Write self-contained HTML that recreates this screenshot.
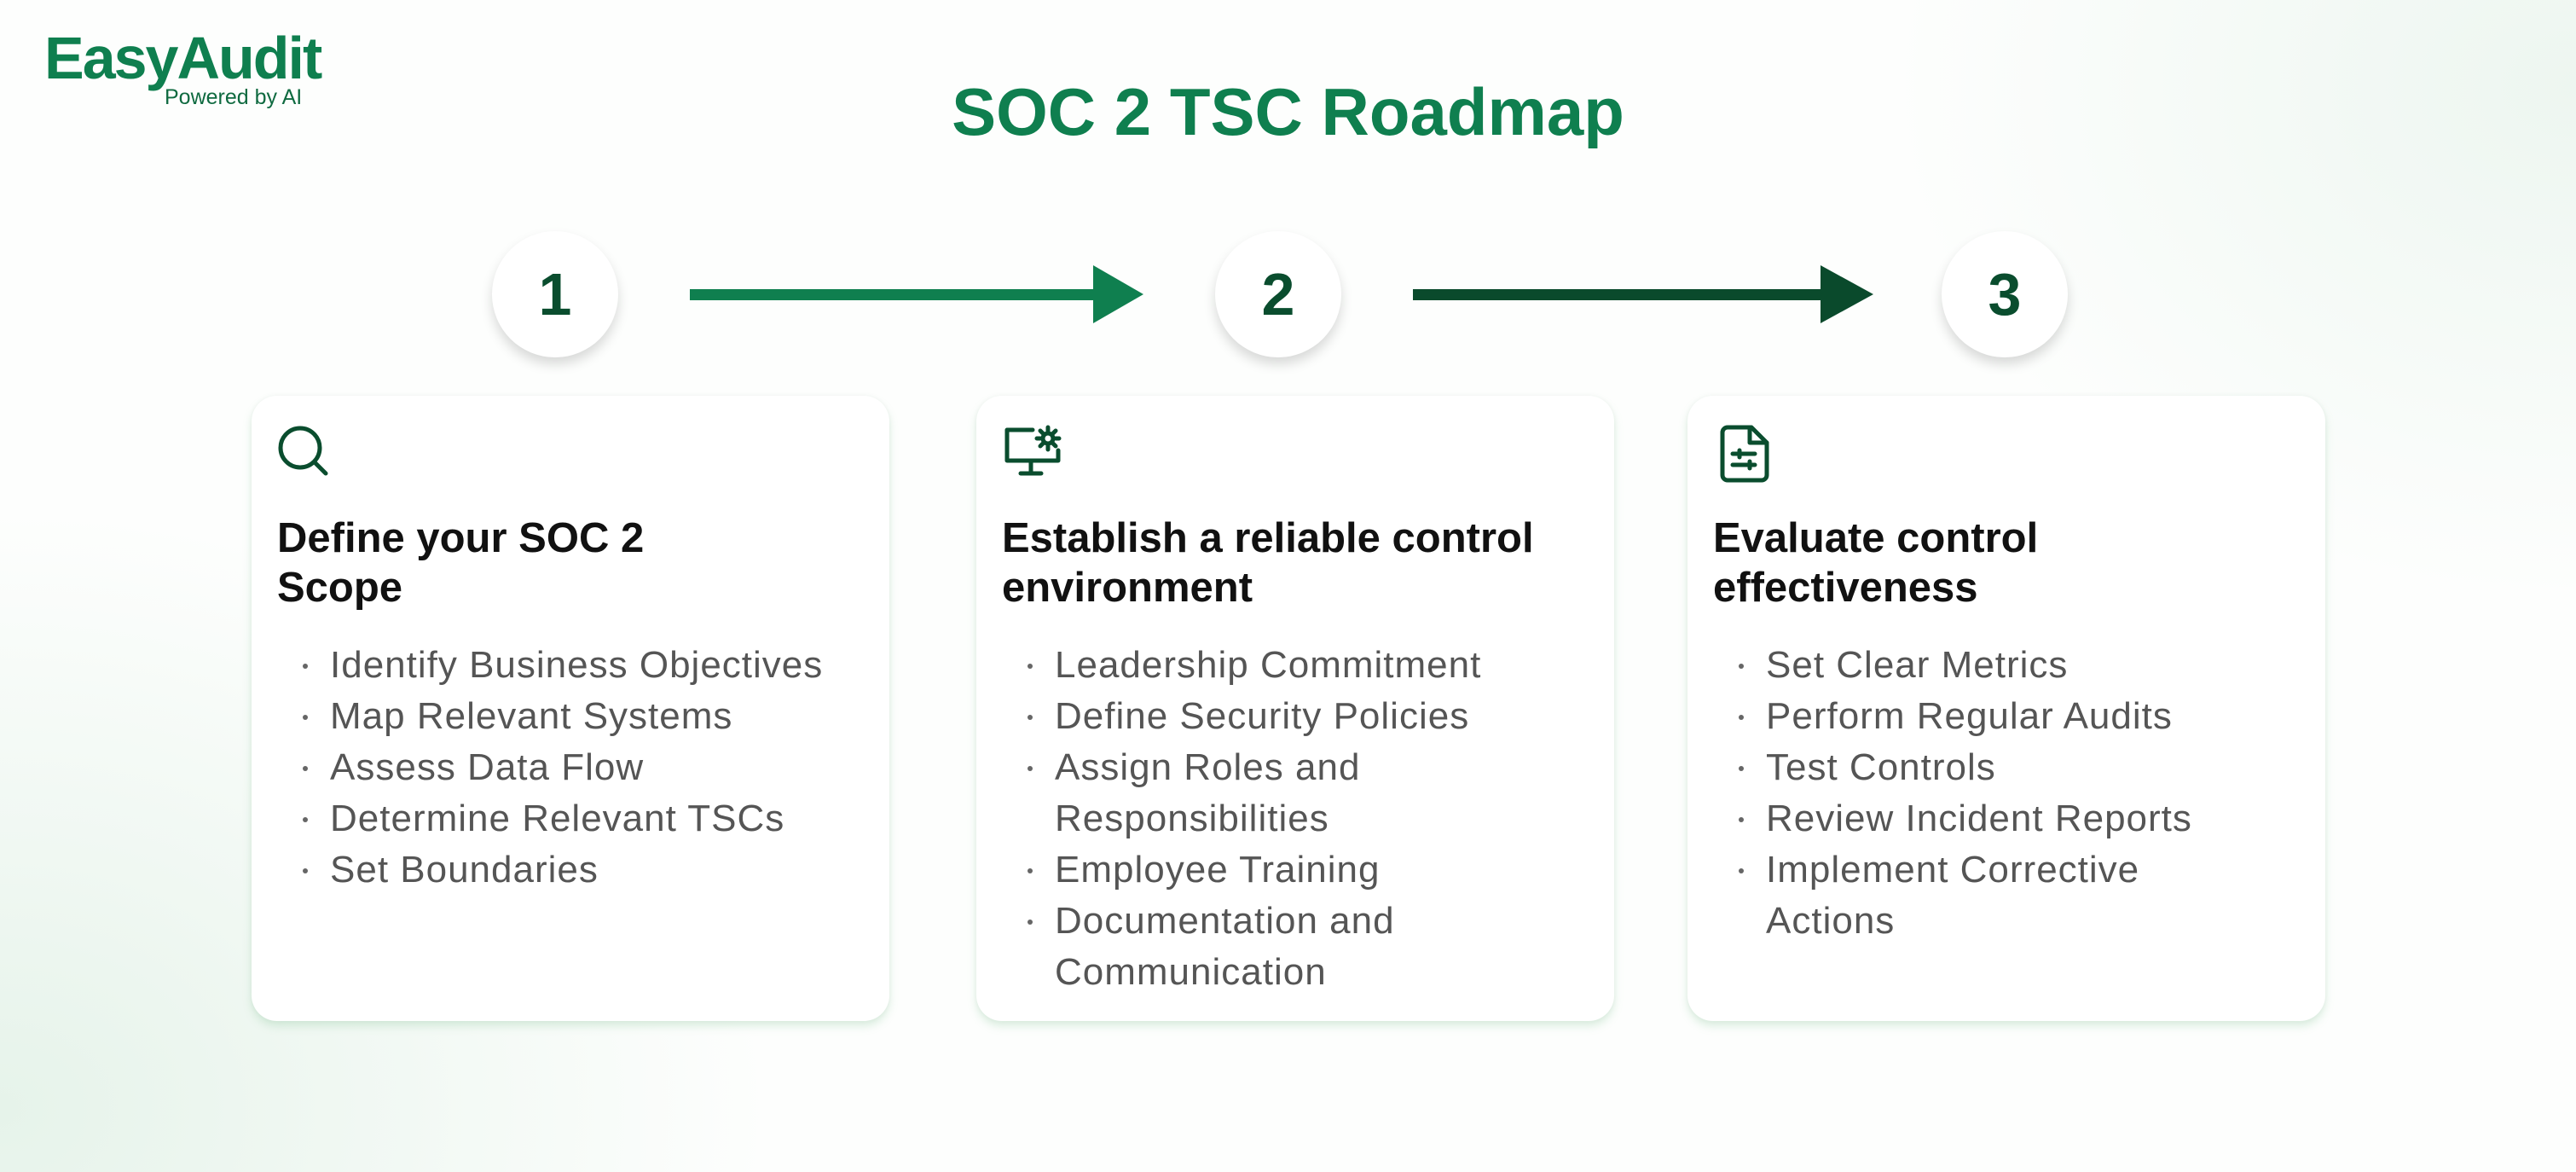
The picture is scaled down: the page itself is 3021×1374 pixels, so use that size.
<!DOCTYPE html>
<html><head><meta charset="utf-8"><style>
*{margin:0;padding:0;box-sizing:border-box}
body{width:3021px;height:1374px;position:relative;overflow:hidden;font-family:"Liberation Sans",sans-serif;
background:radial-gradient(ellipse 900px 700px at 0px 1300px,#e6f3ea 0%,rgba(255,255,255,0) 100%),radial-gradient(ellipse 800px 600px at 3021px 100px,#edf6f0 0%,rgba(255,255,255,0) 100%),#fdfefd}
.abs{position:absolute}
.logo{left:52px;top:28px;font-size:70px;font-weight:bold;color:#0f7f4f;letter-spacing:-2px}
.pw{left:193px;top:100px;font-size:25px;color:#0f6a40}
.title{left:0;width:3021px;top:86px;text-align:center;font-size:78px;font-weight:bold;color:#0f7f4f}
.circ{width:148px;height:148px;border-radius:50%;background:#fff;box-shadow:0 8px 14px rgba(0,0,0,.15);text-align:center;line-height:148px;font-size:70px;font-weight:bold;color:#0a4d2e}
.card{top:464px;width:748px;height:733px;background:#fff;border-radius:30px;box-shadow:0 6px 10px rgba(120,190,140,.25),0 0 6px rgba(0,0,0,.04)}
.h{position:absolute;left:30px;top:138px;font-size:49px;font-weight:bold;color:#111;line-height:58px;width:700px}
ul{position:absolute;left:92px;top:286px;list-style:none;font-size:44px;letter-spacing:1px;color:#555;line-height:60px;width:640px}
li{position:relative}
li:before{content:"";position:absolute;left:-32px;top:28px;width:6px;height:6px;border-radius:50%;background:#666}
svg.ic{position:absolute;left:30px;top:34px}
</style></head><body>
<div class="abs logo">EasyAudit</div>
<div class="abs pw">Powered by AI</div>
<div class="abs title">SOC 2 TSC Roadmap</div>

<div class="abs circ" style="left:577px;top:271px">1</div>
<div class="abs circ" style="left:1425px;top:271px">2</div>
<div class="abs circ" style="left:2277px;top:271px">3</div>

<svg class="abs" style="left:0;top:0" width="3021" height="700">
<rect x="809" y="339" width="480" height="13" fill="#0f7f4f"/>
<polygon points="1282,311 1341,345 1282,379" fill="#0f7f4f"/>
<rect x="1657" y="339" width="482" height="13" fill="#0a4a2c"/>
<polygon points="2135,311 2197,345 2135,379" fill="#0a4a2c"/>
</svg>

<div class="abs card" style="left:295px">
<svg class="ic" width="64" height="64" viewBox="0 0 64 64" fill="none" stroke="#0a4d2e" stroke-width="5" stroke-linecap="round"><circle cx="27" cy="27" r="23"/><line x1="44" y1="44" x2="57" y2="57"/></svg>
<div class="h">Define your SOC 2<br>Scope</div>
<ul><li>Identify Business Objectives</li><li>Map Relevant Systems</li><li>Assess Data Flow</li><li>Determine Relevant TSCs</li><li>Set Boundaries</li></ul>
</div>

<div class="abs card" style="left:1145px">
<svg class="ic" width="70" height="64" viewBox="0 0 70 64" fill="none" stroke="#0a4d2e" stroke-width="5" stroke-linecap="round" stroke-linejoin="round"><path d="M36 6H6v36h60V30"/><line x1="34" y1="44" x2="34" y2="56"/><line x1="22" y1="57" x2="46" y2="57"/><circle cx="54" cy="16" r="6"/><path d="M54 3v4M54 25v4M41 16h4M63 16h4M45 7l3 3M60 22l3 3M45 25l3-3M60 10l3-3"/></svg>
<div class="h">Establish a reliable control<br>environment</div>
<ul><li>Leadership Commitment</li><li>Define Security Policies</li><li>Assign Roles and<br>Responsibilities</li><li>Employee Training</li><li>Documentation and<br>Communication</li></ul>
</div>

<div class="abs card" style="left:1979px">
<svg class="ic" width="60" height="68" viewBox="0 0 60 68" fill="none" stroke="#0a4d2e" stroke-width="5" stroke-linecap="round" stroke-linejoin="round" style="left:37px"><path d="M10 3h28l18 18v38a6 6 0 0 1-6 6H10a6 6 0 0 1-6-6V9a6 6 0 0 1 6-6z"/><path d="M36 3v18h20"/><line x1="16" y1="34" x2="42" y2="34"/><line x1="16" y1="47" x2="42" y2="47"/><line x1="24" y1="30" x2="24" y2="38"/><line x1="36" y1="43" x2="36" y2="51"/></svg>
<div class="h">Evaluate control<br>effectiveness</div>
<ul><li>Set Clear Metrics</li><li>Perform Regular Audits</li><li>Test Controls</li><li>Review Incident Reports</li><li>Implement Corrective<br>Actions</li></ul>
</div>
</body></html>
